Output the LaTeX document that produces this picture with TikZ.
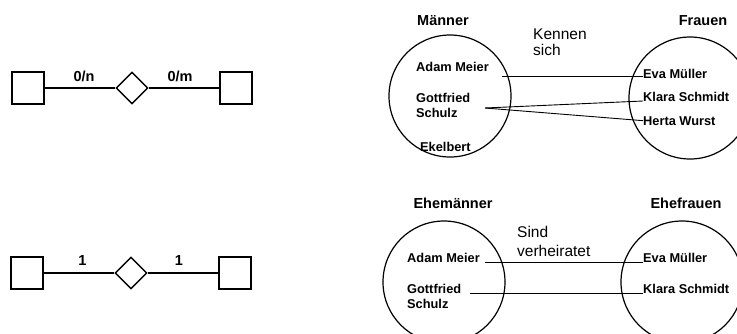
\documentclass[tikz,border=0pt]{standalone}
\usepackage{fontspec}
\setmainfont{Liberation Sans}
\usetikzlibrary{shapes.geometric}
\tikzset{
  entity/.style={draw, rectangle, minimum size=32pt, inner sep=0pt, line width=1.4pt},
  rel/.style={draw, diamond, minimum width=32pt, minimum height=32pt, inner sep=0pt, line width=1.4pt},
  erline/.style={line width=1.3pt},
  card/.style={font=\bfseries\fontsize{14.5}{16}\selectfont, anchor=base, inner sep=0pt},
  setc/.style={draw, circle, minimum size=122pt, inner sep=0pt, line width=1.2pt},
  item/.style={font=\bfseries\fontsize{12.8}{14}\selectfont, anchor=base west, inner sep=0pt},
  head/.style={font=\bfseries\fontsize{14.5}{16}\selectfont, anchor=base, inner sep=0pt},
  rlabel/.style={font=\fontsize{15.5}{17}\selectfont, anchor=base west, inner sep=0pt},
  link/.style={line width=0.9pt}
}
\begin{document}
\begin{tikzpicture}[x=1pt,y=-1pt]
\useasboundingbox (0,0) rectangle (737,333);
\clip (0,0) rectangle (737,333);
% ---- left: ER diagrams ----
\node[entity] (e1) at (28,88) {};
\node[rel] (r1) at (132,88) {};
\node[entity] (e2) at (236,88) {};
\draw[erline] (e1.east) -- (r1.west);
\draw[erline] (r1.east) -- (e2.west);
\node[card] (c1) at (84,81) {0/n};
\node[card] (c2) at (180,81) {0/m};

\node[entity] (e3) at (27,273) {};
\node[rel] (r2) at (131,273) {};
\node[entity] (e4) at (235,273) {};
\draw[erline] (e3.east) -- (r2.west);
\draw[erline] (r2.east) -- (e4.west);
\node[card] (c3) at (82.5,265) {1};
\node[card] (c4) at (179,265) {1};

% ---- top right: Kennen sich ----
\node[setc] (m) at (450,96) {};
\node[setc] (f) at (690,98) {};
\node[head] (hm) at (443,25) {Männer};
\node[head] (hf) at (703,25) {Frauen};
\node[rlabel] (k1) at (533,39) {Kennen};
\node[rlabel] (k2) at (533,55) {sich};
\node[item] (am1) at (416,71) {Adam Meier};
\node[item] (gs1a) at (416,102.5) {Gottfried};
\node[item] (gs1b) at (416,117) {Schulz};
\node[item] (ek) at (420,151) {Ekelbert};
\node[item] (ev1) at (643,78) {Eva Müller};
\node[item] (kl1) at (643,101) {Klara Schmidt};
\node[item] (hw1) at (643,125) {Herta Wurst};
\coordinate (am1e) at (502,76.5);
\coordinate (gs1e) at (485,108);
\draw[link] (am1e) -- (ev1.west |- am1e);
\draw[link] (gs1e) -- (kl1.base west);
\draw[link] (gs1e) -- (hw1.west);

% ---- bottom right: Sind verheiratet ----
\node[setc] (em) at (444,282) {};
\node[setc] (ef) at (682,282) {};
\node[head] (hem) at (453,208) {Ehemänner};
\node[head] (hef) at (686,208) {Ehefrauen};
\node[rlabel] (s1) at (517,237) {Sind};
\node[rlabel] (s2) at (517,256) {verheiratet};
\node[item] (am2) at (407,262) {Adam Meier};
\node[item] (gs2a) at (407,293) {Gottfried};
\node[item] (gs2b) at (407,308) {Schulz};
\node[item] (ev2) at (643,262) {Eva Müller};
\node[item] (kl2) at (643,293) {Klara Schmidt};
\coordinate (am2e) at (485,262);
\coordinate (gs2e) at (470,293);
\draw[link] (am2e) -- (ev2.base west);
\draw[link] (gs2e) -- (kl2.base west);
\end{tikzpicture}
\end{document}
